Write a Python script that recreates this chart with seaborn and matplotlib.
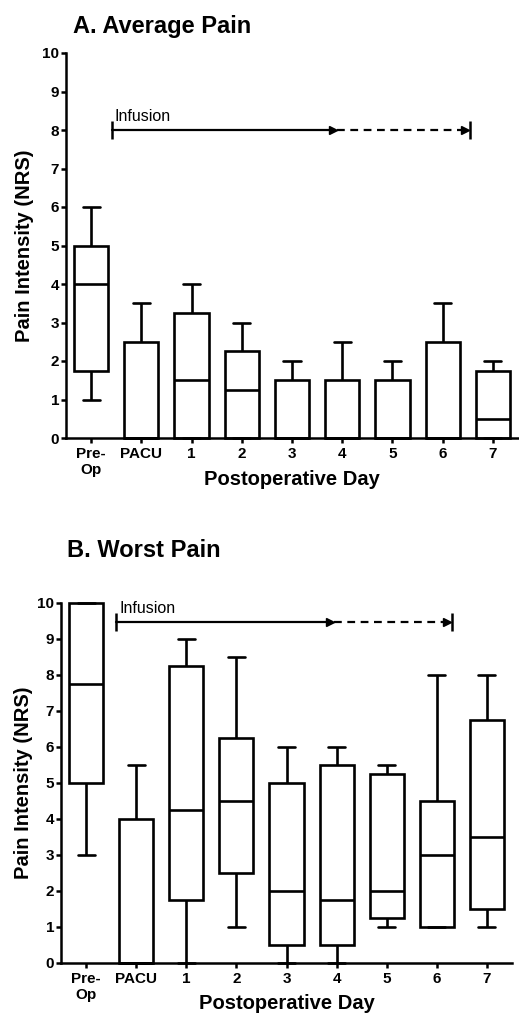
import numpy as np
import pandas as pd
import seaborn as sns
import matplotlib
matplotlib.use("Agg")
import matplotlib.pyplot as plt

# categories on the x axis
categories = ["Pre-\nOp", "PACU", "1", "2", "3", "4", "5", "6", "7"]

# A. Average pain - five number summaries
avg_min = [1, 0, 0, 0, 0, 0, 0, 0, 0]
avg_q1 = [1.75, 0, 0, 0, 0, 0, 0, 0, 0]
avg_med = [4, 0, 1.5, 1.25, 0, 0, 0, 0, 0.5]
avg_q3 = [5, 2.5, 3.25, 2.25, 1.5, 1.5, 1.5, 2.5, 1.75]
avg_max = [6, 3.5, 4, 3, 2, 2.5, 2, 3.5, 2]

# B. Worst pain
worst_min = [3, 0, 0, 1, 0, 0, 1, 1, 1]
worst_q1 = [5, 0, 1.75, 2.5, 0.5, 0.5, 1.25, 1, 1.5]
worst_med = [7.75, 0, 4.25, 4.5, 2, 1.75, 2, 3, 3.5]
worst_q3 = [10, 4, 8.25, 6.25, 5, 5.5, 5.25, 4.5, 6.75]
worst_max = [10, 5.5, 9, 8.5, 6, 6, 5.5, 8, 8]

sns.set_style("ticks")
plt.rcParams["font.family"] = ["Liberation Sans", "DejaVu Sans"]
plt.rcParams["axes.linewidth"] = 1.8
for key in ["text.color", "axes.labelcolor", "axes.edgecolor",
            "xtick.color", "ytick.color"]:
    plt.rcParams[key] = "black"


def draw_panel(ax, mins, q1s, meds, q3s, maxs):
    # 5 points per group -> quartiles land exactly on the read values
    rows = []
    for cat, lo, a, m, b, hi in zip(categories, mins, q1s, meds, q3s, maxs):
        for v in (lo, a, m, b, hi):
            rows.append((cat, v))
    df = pd.DataFrame(rows, columns=["day", "nrs"])
    sns.boxplot(data=df, x="day", y="nrs", order=categories, whis=(0, 100),
                width=0.68, color="white", linecolor="black", linewidth=1.9,
                saturation=1, ax=ax)
    ax.set_xlim(-0.5, 8.5)
    ax.set_ylim(0, 10)
    ax.set_yticks(range(0, 11))
    ax.tick_params(axis="both", direction="out", length=3.5, width=1.8,
                   labelsize=11, colors="black")
    ax.tick_params(axis="y", pad=1.5)
    ax.tick_params(axis="x", pad=3)
    for lab in ax.get_xticklabels() + ax.get_yticklabels():
        lab.set_fontweight("bold")
    sns.despine(ax=ax)
    for sp in ax.spines.values():
        sp.set_color("black")
    ax.set_xlabel("Postoperative Day", fontsize=14.5, fontweight="bold",
                  color="black")
    ax.set_ylabel("Pain Intensity (NRS)", fontsize=14.5, fontweight="bold",
                  color="black")
    for art in ax.get_children():
        art.set_clip_on(False)


def draw_infusion(ax, x0, x_solid, x_end, y, tx, ty):
    ax.plot([x0, x_solid - 0.05], [y, y], color="black", lw=1.6)
    ax.plot([x_solid - 0.08], [y], marker=">", ms=6, color="black")
    ax.plot([x_solid, x_end - 0.1], [y, y], color="black", lw=1.6,
            linestyle=(0, (3.5, 2.5)))
    ax.plot([x_end - 0.1], [y], marker=">", ms=6, color="black")
    ax.plot([x0, x_end], [y, y], linestyle="none", marker="|", ms=13,
            mew=1.8, color="black")
    ax.text(tx, ty, "Infusion", fontsize=11.5, va="baseline", ha="left",
            color="black")


fig = plt.figure(figsize=(5.19, 10.15), dpi=100)

ax1 = fig.add_axes([66 / 519, 1 - 438 / 1015, 452 / 519, 385 / 1015])
draw_panel(ax1, avg_min, avg_q1, avg_med, avg_q3, avg_max)
draw_infusion(ax1, 0.42, 4.89, 7.55, 8, 0.46, 8.23)
ax1.yaxis.set_label_coords(-0.071, 0.5)
ax1.xaxis.set_label_coords(0.5, -0.083)

ax2 = fig.add_axes([61 / 519, 1 - 963 / 1015, 451 / 519, 360 / 1015])
draw_panel(ax2, worst_min, worst_q1, worst_med, worst_q3, worst_max)
draw_infusion(ax2, 0.59, 4.94, 7.31, 9.47, 0.66, 9.72)
ax2.yaxis.set_label_coords(-0.062, 0.5)
ax2.xaxis.set_label_coords(0.5, -0.086)

fig.text(73 / 519, 1 - 33 / 1015, "A. Average Pain", fontsize=17,
         fontweight="bold", va="baseline", color="black")
fig.text(67 / 519, 1 - 557 / 1015, "B. Worst Pain", fontsize=17,
         fontweight="bold", va="baseline", color="black")

fig.savefig("out.png", dpi=100)
